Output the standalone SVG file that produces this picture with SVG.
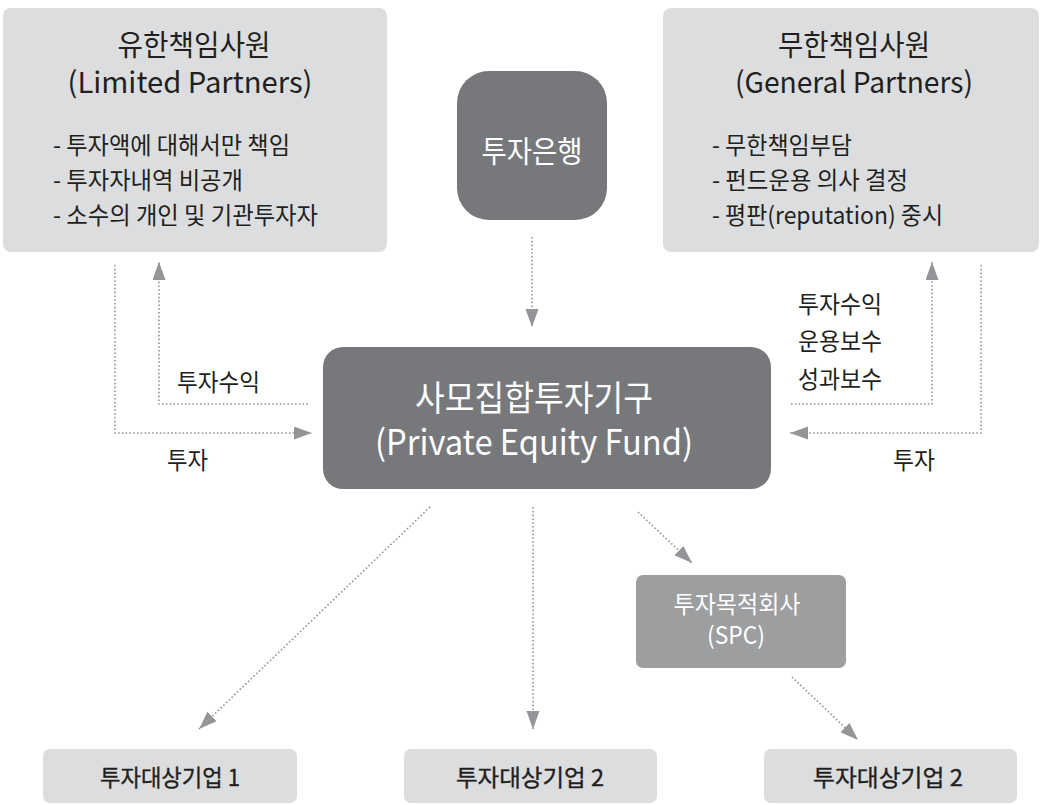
<svg xmlns="http://www.w3.org/2000/svg" width="1049" height="805" viewBox="0 0 1049 805">
<defs>
<style>
text{font-family:"Noto Sans CJK KR","Noto Sans",sans-serif;}
.light{fill:#dcdddf;}
.dark{fill:#77787b;}
.mid{fill:#9d9ea0;}
.t{fill:#231f20;}
.w{fill:#ffffff;}
.title{font-size:29px;text-anchor:middle;}
.bul{font-size:24px;}
.lab{font-size:24px;fill:#231f20;}
.bot{font-size:23px;text-anchor:middle;fill:#231f20;stroke:#231f20;stroke-width:0.35;}
.con{fill:none;stroke:#939598;stroke-width:1.6;stroke-dasharray:1.6 2.2;marker-end:url(#ah);}
</style>
<marker id="ah" markerUnits="userSpaceOnUse" markerWidth="20" markerHeight="14" refX="18" refY="6.5" orient="auto">
<path d="M0,0 L18,6.5 L0,13 Z" fill="#939598"/>
</marker>
</defs>
<rect width="1049" height="805" fill="#ffffff"/>

<g id="connectors">
<path class="con" d="M115,265 V433 H312"/>
<path class="con" d="M308,404 H159 V262"/>
<path class="con" d="M791,404 H932 V262"/>
<path class="con" d="M981,265 V433 H790"/>
<path class="con" d="M532,237 V327"/>
<path class="con" d="M430,507 L199,729"/>
<path class="con" d="M533,507 V729"/>
<path class="con" d="M638,512 L692,563"/>
<path class="con" d="M792,677 L858,740"/>
<text class="lab" x="177" y="391" textLength="83" lengthAdjust="spacingAndGlyphs">투자수익</text>
<text class="lab" x="167" y="469" textLength="41" lengthAdjust="spacingAndGlyphs">투자</text>
<text class="lab" x="798" y="313" textLength="84" lengthAdjust="spacingAndGlyphs">투자수익</text>
<text class="lab" x="798" y="350" textLength="84" lengthAdjust="spacingAndGlyphs">운용보수</text>
<text class="lab" x="798" y="388" textLength="84" lengthAdjust="spacingAndGlyphs">성과보수</text>
<text class="lab" x="893" y="469" textLength="42" lengthAdjust="spacingAndGlyphs">투자</text>
</g>

<g id="lp">
<rect class="light" x="3" y="8" width="384" height="244" rx="8"/>
<text class="t title" x="194" y="56" textLength="153" lengthAdjust="spacingAndGlyphs">유한책임사원</text>
<text class="t title" x="190" y="93" textLength="245" lengthAdjust="spacingAndGlyphs">(Limited Partners)</text>
<text class="t bul" x="53" y="154" textLength="237" lengthAdjust="spacingAndGlyphs">- 투자액에 대해서만 책임</text>
<text class="t bul" x="53" y="189" textLength="190" lengthAdjust="spacingAndGlyphs">- 투자자내역 비공개</text>
<text class="t bul" x="53" y="224" textLength="265" lengthAdjust="spacingAndGlyphs">- 소수의 개인 및 기관투자자</text>
</g>

<g id="gp">
<rect class="light" x="663" y="8" width="376" height="244" rx="8"/>
<text class="t title" x="854" y="56" textLength="152" lengthAdjust="spacingAndGlyphs">무한책임사원</text>
<text class="t title" x="854" y="93" textLength="238" lengthAdjust="spacingAndGlyphs">(General Partners)</text>
<text class="t bul" x="712" y="154" textLength="140" lengthAdjust="spacingAndGlyphs">- 무한책임부담</text>
<text class="t bul" x="712" y="189" textLength="196" lengthAdjust="spacingAndGlyphs">- 펀드운용 의사 결정</text>
<text class="t bul" x="712" y="224" textLength="231" lengthAdjust="spacingAndGlyphs">- 평판(reputation) 중시</text>
</g>

<g id="ib">
<rect class="dark" x="457" y="71" width="150" height="149" rx="32"/>
<text class="w" x="532" y="162" font-size="30" text-anchor="middle" textLength="101" lengthAdjust="spacingAndGlyphs">투자은행</text>
</g>

<g id="pef">
<rect class="dark" x="323" y="347" width="448" height="142" rx="20"/>
<text class="w" x="534" y="411" font-size="35" text-anchor="middle" textLength="238" lengthAdjust="spacingAndGlyphs">사모집합투자기구</text>
<text class="w" x="534" y="455" font-size="35" text-anchor="middle" textLength="318" lengthAdjust="spacingAndGlyphs">(Private Equity Fund)</text>
</g>

<g id="spc">
<rect class="mid" x="636" y="575" width="210" height="93" rx="7"/>
<text class="w" x="737" y="613" font-size="24" text-anchor="middle" textLength="127" lengthAdjust="spacingAndGlyphs">투자목적회사</text>
<text class="w" x="736" y="644" font-size="24" text-anchor="middle" textLength="58" lengthAdjust="spacingAndGlyphs">(SPC)</text>
</g>

<g id="c1">
<rect class="light" x="43" y="749" width="254" height="54" rx="7"/>
<text class="bot" x="170" y="786" textLength="140" lengthAdjust="spacingAndGlyphs">투자대상기업 1</text>
</g>
<g id="c2">
<rect class="light" x="404" y="749" width="253" height="54" rx="7"/>
<text class="bot" x="530" y="786" textLength="148" lengthAdjust="spacingAndGlyphs">투자대상기업 2</text>
</g>
<g id="c3">
<rect class="light" x="764" y="749" width="253" height="54" rx="7"/>
<text class="bot" x="888" y="786" textLength="150" lengthAdjust="spacingAndGlyphs">투자대상기업 2</text>
</g>
</svg>
